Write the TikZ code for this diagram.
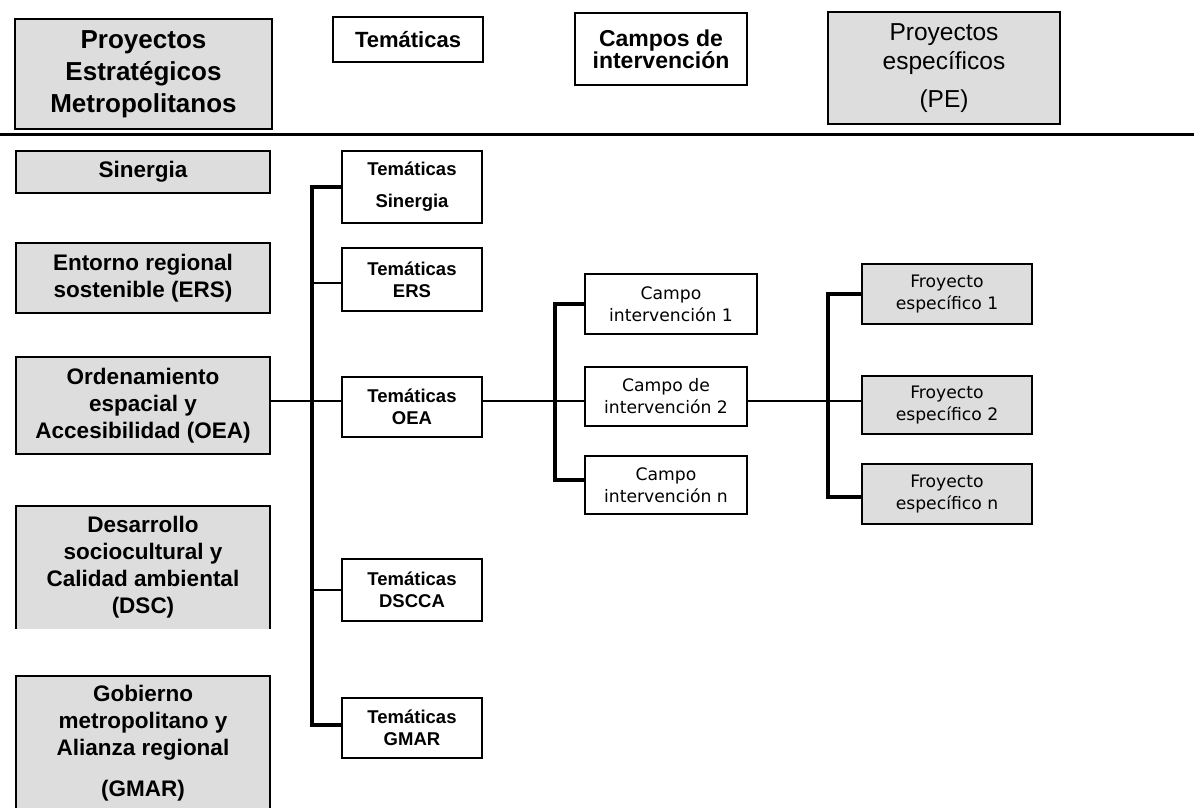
\documentclass[tikz,border=0pt]{standalone}
\usepackage{fontspec}
\setmainfont{Liberation Sans}
\newfontfamily\djv{DejaVu Sans}
\definecolor{boxgray}{RGB}{221,221,221}
\tikzset{
  bx/.style={draw=black, line width=1.6pt, inner sep=0pt, align=center, text=black},
  gbx/.style={bx, fill=boxgray},
  wbx/.style={bx, fill=white},
  ltxt/.style={font=\bfseries\fontsize{22.5}{27}\selectfont},
  ttxt/.style={font=\bfseries\fontsize{18.5}{22}\selectfont},
  ctxt/.style={font=\djv\fontsize{17.2}{22}\selectfont},
  busline/.style={line width=3.6pt, line join=miter},
  branch/.style={line width=2.8pt},
  mainline/.style={line width=2.2pt}
}
\begin{document}
\begin{tikzpicture}[x=1pt,y=-1pt]
\useasboundingbox (0,0) rectangle (1194,807);
% header
\node[gbx, minimum width=257pt, minimum height=110pt, font=\bfseries\fontsize{26}{32}\selectfont] (pem) at (143.5,74) {Proyectos\\Estratégicos\\Metropolitanos};
\node[wbx, minimum width=150pt, minimum height=45pt, font=\bfseries\fontsize{22}{25}\selectfont] (temh) at (408,39.5) {Temáticas};
\node[wbx, minimum width=172pt, minimum height=72pt, font=\bfseries\fontsize{23}{22}\selectfont] (camh) at (661,49) {Campos de\\intervención};
\node[gbx, minimum width=232pt, minimum height=112pt, font=\fontsize{24.5}{29}\selectfont] (peh) at (944,68) {Proyectos\\específicos\\[9pt](PE)};
\coordinate (rl) at (0,134);
\coordinate (rr) at (1194,134);
\draw[line width=3pt] (rl) -- (rr);
% left column
\node[gbx, minimum width=254pt, minimum height=42pt, ltxt] (sin) at (143,172) {Sinergia};
\node[gbx, minimum width=254pt, minimum height=70pt, ltxt] (ers) at (143,278) {Entorno regional\\sostenible (ERS)};
\node[gbx, minimum width=254pt, minimum height=97pt, ltxt] (oea) at (143,405.5) {Ordenamiento\\espacial y\\Accesibilidad (OEA)};
\node[fill=boxgray, draw=none, inner sep=0pt, align=center, minimum width=254pt, minimum height=123pt, ltxt] (dsc) at (143,567.5) {Desarrollo\\sociocultural y\\Calidad ambiental\\(DSC)};
\draw[line width=1.6pt] (dsc.south west) -- (dsc.north west) -- (dsc.north east) -- (dsc.south east);
\node[gbx, minimum width=254pt, minimum height=134pt, ltxt] (gmar) at (143,743) {Gobierno\\metropolitano y\\Alianza regional\\[14pt](GMAR)};
% tematicas column
\node[wbx, minimum width=140pt, minimum height=72pt, ttxt] (ts) at (412,187) {Temáticas\\[10pt]Sinergia};
\node[wbx, minimum width=140pt, minimum height=63pt, ttxt] (te) at (412,279.5) {Temáticas\\ERS};
\node[wbx, minimum width=140pt, minimum height=60pt, ttxt] (to) at (412,407) {Temáticas\\OEA};
\node[wbx, minimum width=140pt, minimum height=62pt, ttxt] (td) at (412,590) {Temáticas\\DSCCA};
\node[wbx, minimum width=140pt, minimum height=60pt, ttxt] (tg) at (412,728) {Temáticas\\GMAR};
% campos column
\node[wbx, minimum width=172pt, minimum height=60pt, ctxt] (c1) at (671,304) {Campo\\intervención 1};
\node[wbx, minimum width=162pt, minimum height=59pt, ctxt] (c2) at (666,396.5) {Campo de\\intervención 2};
\node[wbx, minimum width=162pt, minimum height=58pt, ctxt] (cn) at (666,485) {Campo\\intervención n};
% proyectos column
\node[gbx, minimum width=170pt, minimum height=60pt, ctxt] (p1) at (947,294) {Froyecto\\específico 1};
\node[gbx, minimum width=170pt, minimum height=58pt, ctxt] (p2) at (947,405) {Froyecto\\específico 2};
\node[gbx, minimum width=170pt, minimum height=60pt, ctxt] (pn) at (947,494) {Froyecto\\específico n};
% connectors
\coordinate (bA) at (312,0);
\coordinate (bB) at (555,0);
\coordinate (bC) at (828,0);
\coordinate (my) at (0,401);
\draw[busline] (ts.west) -- (ts.west -| bA) -- ([yshift=3pt]tg.west -| bA) -- ([yshift=3pt]tg.west);
\draw[branch] ([yshift=-3.5pt]te.west -| bA) -- ([yshift=-3.5pt]te.west);
\draw[branch] (td.west -| bA) -- (td.west);
\draw[mainline] (oea.east |- my) -- (to.west |- my);
\draw[mainline] (to.east |- my) -- (c2.west |- my);
\draw[busline] (c1.west) -- (c1.west -| bB) -- ([yshift=5pt]cn.west -| bB) -- ([yshift=5pt]cn.west);
\draw[mainline] (c2.east |- my) -- (p2.west |- my);
\draw[busline] (p1.west) -- (p1.west -| bC) -- ([yshift=-3pt]pn.west -| bC) -- ([yshift=-3pt]pn.west);
\end{tikzpicture}
\end{document}
